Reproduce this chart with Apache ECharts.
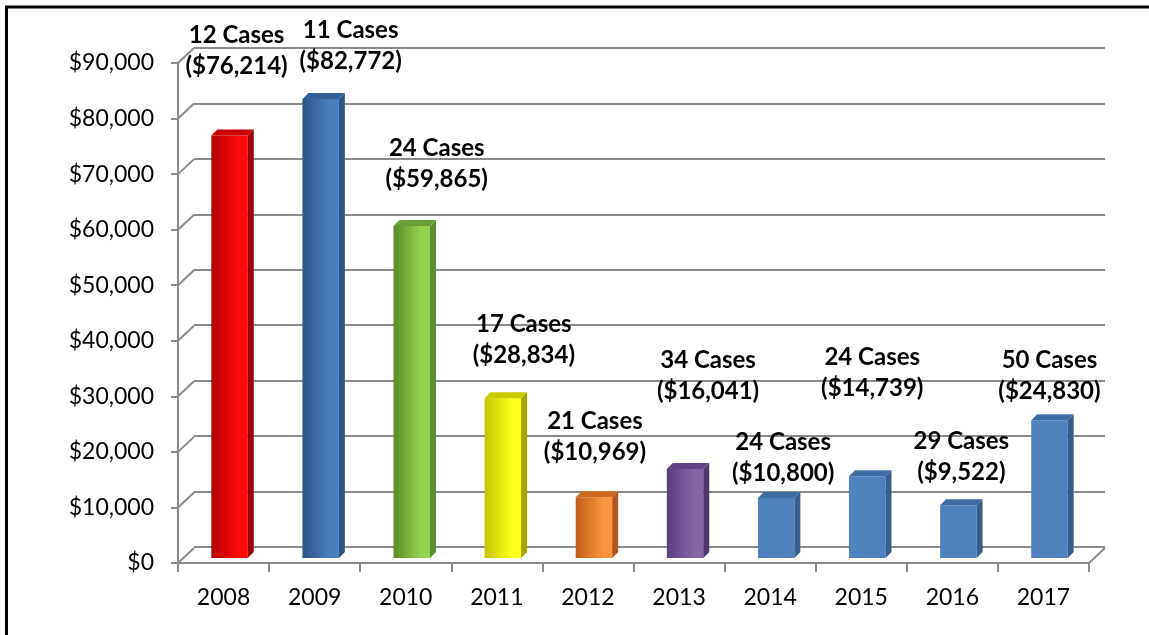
<!DOCTYPE html>
<html>
<head>
<meta charset="utf-8">
<script src="https://cdn.jsdelivr.net/npm/echarts@6/dist/echarts.min.js"></script>
<style>
  html, body { margin: 0; padding: 0; background: #fff; }
  #chart { width: 1149px; height: 635px; }
</style>
</head>
<body>
<div id="chart"></div>
<script>
// data
const years = ['2008', '2009', '2010', '2011', '2012', '2013', '2014', '2015', '2016', '2017']
const amounts = [76214, 82772, 59865, 28834, 10969, 16041, 10800, 14739, 9522, 24830]
const cases = [12, 11, 24, 17, 21, 34, 24, 24, 29, 50]
const yTicks = [0, 10000, 20000, 30000, 40000, 50000, 60000, 70000, 80000, 90000]

// label block offsets from the top of each bar (pixels), as placed in the picture
const labelShift = [[7, -85], [30, -53], [25, -62], [21, -58], [1, -60], [23, -93], [7, -40], [5, -104], [3, -48], [0, -45]]

// bar colours: front gradient (left, right), side, top
const flatBlue = { l: '#4f81bd', r: '#4f81bd', side: '#385d8a', top: '#3f6ca3' }
const barColors = [
  { l: '#b00000', r: '#ff0a0a', side: '#9c0000', top: '#c80000' },
  { l: '#2c5487', r: '#4a7ebf', side: '#2d5285', top: '#34609a' },
  { l: '#5a8a25', r: '#92d450', side: '#5e8e2e', top: '#6a9e35' },
  { l: '#c4c400', r: '#ffff1a', side: '#a6a600', top: '#c8c800' },
  { l: '#c05d17', r: '#f8963f', side: '#b4561a', top: '#d0691f' },
  { l: '#5a3d7e', r: '#8366a6', side: '#4f346f', top: '#604386' },
  flatBlue, flatBlue, flatBlue, flatBlue
]

const gridColor = '#8a8a8a'
const fontFam = 'Lato, "Noto Sans", sans-serif'
const money = v => '$' + v.toLocaleString('en-US')

const chart = echarts.init(document.getElementById('chart'))

// 3D-looking bar: front face, side face and top face
const renderBar = (params, api) => {
  const i = api.value(0)
  const v = api.value(1)
  const top = api.coord([i, v])
  const base = api.coord([i, 0])
  const w = api.size([1, 0])[0] * 0.4
  const x0 = top[0] - w / 2
  const x1 = top[0] + w / 2
  const d = 6
  const c = barColors[i]
  const sh = labelShift[i]
  return {
    type: 'group',
    children: [
      {
        type: 'rect',
        shape: { x: x0, y: top[1], width: w, height: base[1] - top[1] },
        style: {
          fill: new echarts.graphic.LinearGradient(0, 0, 1, 0, [
            { offset: 0, color: c.l },
            { offset: 0.75, color: c.r },
            { offset: 1, color: c.r }
          ])
        }
      },
      {
        type: 'polygon',
        shape: { points: [[x1, top[1]], [x1 + d, top[1] - d], [x1 + d, base[1] - d], [x1, base[1]]] },
        style: { fill: c.side }
      },
      {
        type: 'polygon',
        shape: { points: [[x0, top[1]], [x0 + d, top[1] - d], [x1 + d, top[1] - d], [x1, top[1]]] },
        style: { fill: c.top }
      },
      {
        type: 'text',
        x: top[0] + sh[0],
        y: top[1] + sh[1],
        style: {
          text: cases[i] + ' Cases\n(' + money(v) + ')',
          font: 'bold 24px ' + fontFam,
          fill: '#000',
          align: 'center',
          verticalAlign: 'middle',
          lineHeight: 31
        }
      }
    ]
  }
}

// side wall / floor edges joining the front axes to the back wall
const renderWall = (params, api) => {
  const cs = params.coordSys
  const y = api.coord([0, api.value(0)])[1]
  const lines = [
    { type: 'line', shape: { x1: cs.x, y1: y, x2: cs.x + 16, y2: y - 15 }, style: { stroke: gridColor, lineWidth: 2 } }
  ]
  if (api.value(0) === 0) {
    const xr = cs.x + cs.width
    lines.push({ type: 'line', shape: { x1: xr, y1: y, x2: xr + 16, y2: y - 15 }, style: { stroke: gridColor, lineWidth: 2 } })
  }
  return { type: 'group', children: lines }
}

const option = {
  backgroundColor: '#fff',
  animation: false,
  graphic: [
    { type: 'line', shape: { x1: 5, y1: 7, x2: 1149, y2: 7 }, style: { stroke: '#000', lineWidth: 3 } },
    { type: 'line', shape: { x1: 6.5, y1: 6, x2: 6.5, y2: 635 }, style: { stroke: '#000', lineWidth: 3 } }
  ],
  grid: [
    // front (axes and labels)
    { left: 178, right: 60, top: 63, bottom: 72 },
    // back wall (grid lines)
    { left: 194, right: 44, top: 48, bottom: 88 },
    // bars, halfway in depth
    { left: 184, right: 54, top: 59, bottom: 77 }
  ],
  xAxis: [
    {
      gridIndex: 0,
      type: 'category',
      data: years,
      boundaryGap: true,
      axisLine: { show: true, lineStyle: { color: gridColor, width: 2 } },
      axisTick: { show: true, length: 9, lineStyle: { color: gridColor, width: 2 } },
      axisLabel: { color: '#000', fontSize: 23, fontFamily: fontFam, margin: 23 }
    },
    { gridIndex: 1, type: 'category', data: years, show: false },
    { gridIndex: 2, type: 'category', data: years, show: false }
  ],
  yAxis: [
    {
      gridIndex: 0,
      type: 'value',
      min: 0,
      max: 90000,
      interval: 10000,
      axisLine: { show: true, lineStyle: { color: gridColor, width: 2 } },
      axisTick: { show: true, length: 7, lineStyle: { color: gridColor, width: 2 } },
      axisLabel: { color: '#000', fontSize: 23, fontFamily: fontFam, margin: 24, formatter: v => money(v) },
      splitLine: { show: false }
    },
    {
      gridIndex: 1,
      type: 'value',
      min: 0,
      max: 90000,
      interval: 10000,
      axisLine: { show: false },
      axisTick: { show: false },
      axisLabel: { show: false },
      splitLine: { show: true, lineStyle: { color: gridColor, width: 2 } }
    },
    { gridIndex: 2, type: 'value', min: 0, max: 90000, show: false, splitLine: { show: false } }
  ],
  series: [
    {
      type: 'custom',
      xAxisIndex: 0,
      yAxisIndex: 0,
      data: yTicks.map(v => [v]),
      encode: { y: 0 },
      renderItem: renderWall,
      silent: true,
      z: 1
    },
    {
      type: 'custom',
      xAxisIndex: 2,
      yAxisIndex: 2,
      data: amounts.map((v, i) => [i, v]),
      encode: { x: 0, y: 1 },
      renderItem: renderBar,
      z: 3
    }
  ]
}

chart.setOption(option)
</script>
</body>
</html>
